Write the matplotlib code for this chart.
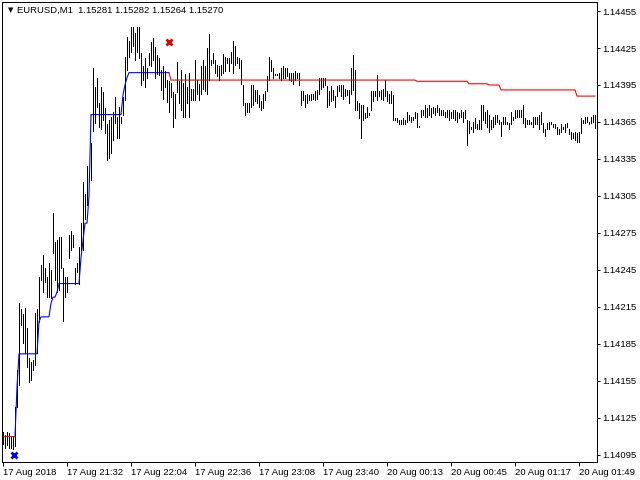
import numpy as np
import matplotlib
matplotlib.use("Agg")
import matplotlib.pyplot as plt

# EURUSD M1 bars, extremes in points above 1.14000 (one bar per minute)
high_pts = [
    114, 111, 114, 113, 110, 110, 134, 164, 218, 213,
    209, 214, 198, 174, 170, 172, 210, 213, 239, 249,
    257, 247, 239, 251, 245, 291, 268, 269, 272, 272,
    247, 239, 239, 273, 277, 273, 247, 251, 264, 283,
    316, 307, 329, 324, 348, 409, 393, 401, 380, 393,
    389, 376, 363, 367, 369, 373, 385, 369, 377, 369,
    385, 418, 434, 431, 442, 442, 437, 442, 442, 421,
    410, 417, 409, 421, 430, 433, 426, 419, 417, 407,
    410, 406, 399, 398, 397, 389, 388, 414, 398, 407,
    397, 404, 393, 405, 392, 392, 415, 399, 396, 410,
    415, 410, 425, 436, 415, 421, 415, 411, 410, 411,
    420, 418, 417, 417, 422, 431, 427, 418, 417, 415,
    395, 380, 380, 380, 395, 395, 391, 391, 387, 382,
    388, 390, 402, 418, 415, 409, 404, 404, 405, 409,
    410, 409, 409, 405, 405, 405, 406, 405, 405, 390,
    390, 387, 388, 387, 388, 388, 390, 391, 401, 401,
    401, 401, 394, 390, 394, 391, 386, 394, 395, 395,
    395, 392, 391, 391, 409, 419, 407, 382, 380, 379,
    379, 372, 377, 372, 390, 390, 390, 403, 390, 391,
    392, 399, 390, 388, 390, 387, 368, 368, 367, 367,
    368, 367, 373, 371, 369, 369, 373, 372, 362, 375,
    375, 379, 376, 379, 376, 377, 376, 379, 376, 375,
    375, 373, 375, 375, 373, 375, 375, 373, 372, 375,
    373, 375, 367, 366, 361, 365, 368, 363, 367, 379,
    379, 373, 375, 371, 367, 369, 371, 371, 367, 365,
    369, 369, 365, 364, 373, 369, 375, 375, 375, 375,
    379, 368, 367, 367, 365, 369, 369, 369, 371, 373,
    364, 359, 364, 365, 365, 363, 363, 361, 359, 363,
    361, 363, 364, 359, 357, 356, 357, 356, 357, 368,
    367, 369, 369, 365, 369, 371, 371,
]
low_pts = [
    104, 101, 103, 101, 101, 100, 102, 134, 152, 200,
    186, 178, 166, 154, 156, 164, 168, 178, 203, 237,
    227, 235, 223, 223, 222, 259, 237, 227, 229, 247,
    204, 223, 227, 255, 261, 264, 234, 243, 234, 261,
    261, 286, 298, 318, 318, 358, 364, 377, 361, 359,
    367, 356, 334, 336, 340, 350, 364, 352, 352, 364,
    371, 383, 407, 418, 422, 427, 415, 422, 417, 395,
    399, 393, 401, 411, 410, 415, 401, 404, 403, 391,
    384, 393, 381, 373, 385, 361, 368, 389, 380, 375,
    369, 369, 380, 369, 383, 383, 383, 388, 383, 388,
    392, 390, 388, 399, 411, 413, 405, 402, 399, 403,
    405, 406, 413, 406, 413, 405, 411, 413, 409, 396,
    379, 371, 373, 373, 377, 379, 382, 380, 377, 375,
    376, 383, 390, 399, 406, 401, 403, 403, 401, 399,
    401, 401, 402, 399, 398, 396, 399, 401, 395, 379,
    383, 377, 380, 383, 383, 384, 383, 384, 388, 392,
    393, 395, 377, 379, 382, 383, 377, 386, 390, 386,
    384, 386, 387, 380, 388, 391, 375, 375, 368, 352,
    367, 368, 369, 371, 375, 382, 386, 383, 386, 384,
    383, 386, 382, 380, 380, 367, 367, 365, 363, 363,
    363, 363, 365, 367, 365, 367, 368, 361, 361, 369,
    371, 369, 369, 371, 369, 372, 371, 373, 371, 371,
    371, 369, 369, 367, 368, 368, 367, 365, 368, 369,
    365, 368, 346, 356, 359, 357, 360, 359, 359, 359,
    367, 364, 361, 357, 359, 361, 363, 365, 363, 354,
    363, 363, 363, 359, 363, 367, 368, 369, 369, 369,
    364, 361, 363, 363, 363, 361, 363, 363, 359, 363,
    357, 354, 359, 359, 363, 361, 360, 355, 355, 357,
    359, 357, 361, 355, 351, 352, 350, 349, 349, 356,
    364, 364, 365, 363, 364, 365, 360,
]

# indicator lines: run-length levels (points above 1.14000)
red_left_start = 0
red_left_levels = [110]
red_left_counts = [7]

blue_start = 6
blue_levels = [110, 150, 177, 203, 207, 218, 223, 227, 234, 255, 269, 283,
               305, 371, 387, 395, 401, 405]
blue_counts = [1, 1, 10, 1, 5, 1, 2, 1, 11, 1, 1, 2, 1, 16, 1, 1, 1, 21]

red_start = 83
red_levels = [405, 399, 398, 396, 395, 391, 386]
red_counts = [1, 123, 26, 10, 6, 38, 10]

# arrows (bar index, points)
buy_arrow = (5.5, 95)
sell_arrow = (83, 430)

xtick_bars = [0, 32, 64, 96, 128, 160, 192, 224, 256, 288]
xtick_labels = ["17 Aug 2018", "17 Aug 21:32", "17 Aug 22:04", "17 Aug 22:36",
                "17 Aug 23:08", "17 Aug 23:40", "20 Aug 00:13", "20 Aug 00:45",
                "20 Aug 01:17", "20 Aug 01:49"]
ytick_prices = [1.14095, 1.14125, 1.14155, 1.14185, 1.14215, 1.14245, 1.14275,
                1.14305, 1.14335, 1.14365, 1.14395, 1.14425, 1.14455]

title_symbol = "EURUSD,M1"
title_ohlc = "1.15281 1.15282 1.15264 1.15270"


def to_price(pts):
    return 1.14 + np.asarray(pts, dtype=float) / 1e5


def run_levels(start, levels, counts):
    vals = np.repeat(levels, counts)
    return np.arange(start, start + len(vals)), to_price(vals)


plt.rcParams['font.family'] = ['Liberation Sans', 'DejaVu Sans']

fig = plt.figure(figsize=(6.4, 4.8), dpi=100)
ax = fig.add_axes([2 / 640, 18 / 480, 595 / 640, 460 / 480])

px = 72 / 100  # one pixel in points

bars = np.arange(len(high_pts))
ax.vlines(bars, to_price(low_pts), to_price(high_pts), colors='black',
          linewidth=px, antialiased=False)

x, y = run_levels(red_left_start, red_left_levels, red_left_counts)
ax.plot(x, y, color='#ff0000', lw=px * 1.1)
x, y = run_levels(blue_start, blue_levels, blue_counts)
ax.plot(x, y, color='#0000ff', lw=px * 1.1)
x, y = run_levels(red_start, red_levels, red_counts)
ax.plot(x, y, color='#ff0000', lw=px * 1.1)

ax.plot(buy_arrow[0], to_price(buy_arrow[1]), marker='x', color='#0000ff',
        ms=5, mew=2, ls='none')
ax.plot(sell_arrow[0], to_price(sell_arrow[1]), marker='x', color='#e00000',
        ms=5, mew=2, ls='none')

ax.set_xlim(-0.5, 297)
ax.set_ylim(to_price(89.3), to_price(462.3))

ax.yaxis.tick_right()
ax.set_yticks(ytick_prices)
ax.set_yticklabels(["%.5f" % p for p in ytick_prices])
ax.set_xticks(xtick_bars)
ax.set_xticklabels(xtick_labels, ha='left')
ax.tick_params(axis='y', direction='out', length=3 * px, width=px,
               pad=2, labelsize=6.8)
ax.tick_params(axis='x', direction='out', length=4 * px, width=px,
               pad=1.5, labelsize=6.8)
for s in ax.spines.values():
    s.set_linewidth(px)
    s.set_color('black')

fig.text(7.5 / 640, 1 - 10 / 480, "\u25bc", fontsize=5, va='center',
         family=['DejaVu Sans'])
fig.text(17 / 640, 1 - 10 / 480, title_symbol + "  " + title_ohlc,
         fontsize=6.8, va='center')

fig.savefig("out.png", dpi=100)
